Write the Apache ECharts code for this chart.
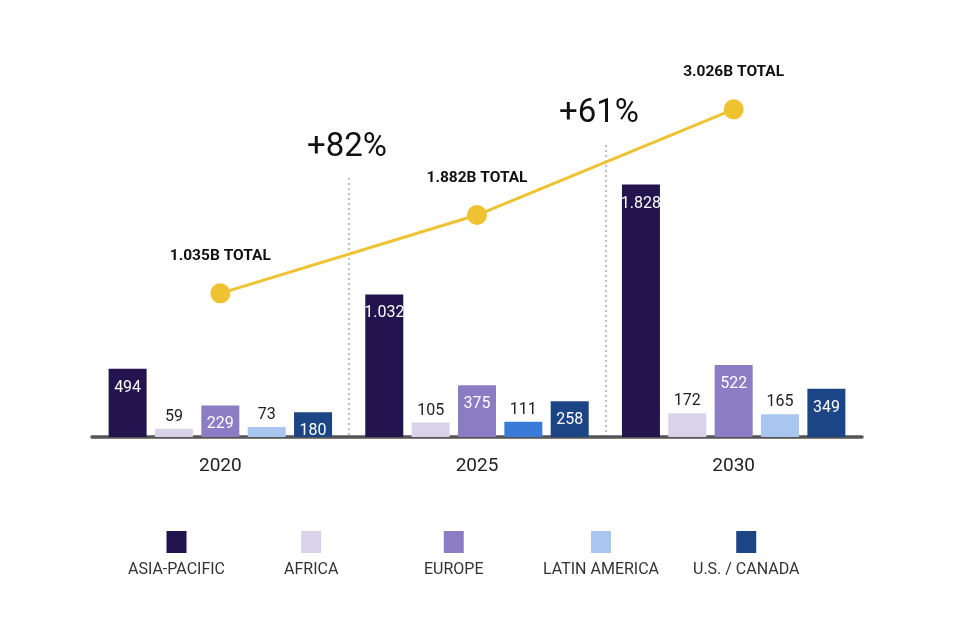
<!DOCTYPE html>
<html>
<head>
<meta charset="utf-8">
<script src="https://cdn.jsdelivr.net/npm/echarts@6/dist/echarts.min.js"></script>
<style>
  html, body { margin: 0; padding: 0; background: #fff; }
  #main { width: 960px; height: 640px; }
</style>
</head>
<body>
<div id="main"></div>
<script>
var years = ['2020', '2025', '2030'];
var regions = ['ASIA-PACIFIC', 'AFRICA', 'EUROPE', 'LATIN AMERICA', 'U.S. / CANADA'];
var asiaPacific = [494, 1032, 1828];
var africa = [59, 105, 172];
var europe = [229, 375, 522];
var latinAmerica = [73, 111, 165];
var usCanada = [180, 258, 349];
var totals = [1035, 1882, 3026];

var colors = ['#23144f', '#d9d3ea', '#8c7cc4', '#a9c6f0', '#1c4585'];
var seriesData = [asiaPacific, africa, europe, latinAmerica, usCanada];
var labelInside = [true, false, true, false, true];
// legend item centres (px), legend boxes sit above their names
var legendCentres = [172, 306, 449, 596, 741];
var legendFont = '16px Roboto';

function fmt(v) {
    return v >= 1000 ? (v / 1000).toFixed(3) : String(v);
}

var ctx = document.createElement('canvas').getContext('2d');
ctx.font = legendFont;

var legends = regions.map(function (name, i) {
    var w = ctx.measureText(name).width;
    var rich = {
        box: { backgroundColor: colors[i], width: 20, height: 22, align: 'center' },
        n: { align: 'center', fontSize: 16, color: '#333', fontFamily: 'Roboto', padding: [9, 0, 0, 0] }
    };
    return {
        data: [name],
        left: Math.round(legendCentres[i] - w / 2),
        bottom: 62,
        icon: 'none',
        itemWidth: 0,
        itemHeight: 0,
        padding: 0,
        selectedMode: false,
        formatter: function (n) { return '{box|}\n{n|' + n + '}'; },
        textStyle: { rich: rich }
    };
});

var barSeries = regions.map(function (name, i) {
    return {
        name: name,
        type: 'bar',
        barWidth: 38,
        barGap: '22%',
        itemStyle: { color: colors[i] },
        data: seriesData[i].map(function (v, j) {
            // the 2025 latin america bar is a brighter blue in the source
            if (i === 3 && j === 1) return { value: v, itemStyle: { color: '#3b7bd8' } };
            return v;
        }),
        label: {
            show: true,
            position: labelInside[i] ? 'insideTop' : 'top',
            distance: labelInside[i] ? 11 : 4,
            color: labelInside[i] ? '#fff' : '#222',
            fontSize: 16,
            fontFamily: 'Roboto',
            formatter: function (p) { return fmt(p.value); }
        }
    };
});

var option = {
    backgroundColor: '#fff',
    textStyle: { fontFamily: 'Roboto' },
    animation: false,
    grid: { left: 92, right: 98, top: 60, bottom: 203 },
    legend: legends,
    xAxis: {
        type: 'category',
        data: years,
        axisTick: { show: false },
        axisLine: { show: true, lineStyle: { color: '#555', width: 3.5 } },
        axisLabel: { margin: 20, fontSize: 19, color: '#222' }
    },
    yAxis: [{
        type: 'value',
        min: 0,
        max: 2730,
        show: false,
        splitLine: { show: false }
    }, {
        type: 'value',
        min: -520,
        max: 3560,
        show: false,
        splitLine: { show: false }
    }],
    graphic: [
        { type: 'line', shape: { x1: 349, y1: 178, x2: 349, y2: 436 }, style: { stroke: '#aaa', lineWidth: 1.5, lineDash: [2, 3] } },
        { type: 'line', shape: { x1: 606, y1: 145, x2: 606, y2: 436 }, style: { stroke: '#aaa', lineWidth: 1.5, lineDash: [2, 3] } },
        { type: 'text', x: 347, y: 148, style: { text: '+82%', fontSize: 33, fill: '#111', align: 'center', verticalAlign: 'middle', fontFamily: 'Roboto' } },
        { type: 'text', x: 599, y: 114, style: { text: '+61%', fontSize: 33, fill: '#111', align: 'center', verticalAlign: 'middle', fontFamily: 'Roboto' } }
    ],
    series: barSeries.concat([{
        name: 'TOTAL',
        type: 'line',
        yAxisIndex: 1,
        data: totals,
        symbol: 'circle',
        symbolSize: 20,
        z: 5,
        lineStyle: { color: '#efc232', width: 3 },
        itemStyle: { color: '#efc232' },
        label: {
            show: true,
            position: 'top',
            distance: 19,
            fontSize: 15.5,
            fontWeight: 'bold',
            color: '#111',
            formatter: function (p) { return (p.value / 1000).toFixed(3) + 'B TOTAL'; }
        }
    }])
};

var chart = echarts.init(document.getElementById('main'));
chart.setOption(option);
window.addEventListener('resize', function () { chart.resize(); });
</script>
</body>
</html>
